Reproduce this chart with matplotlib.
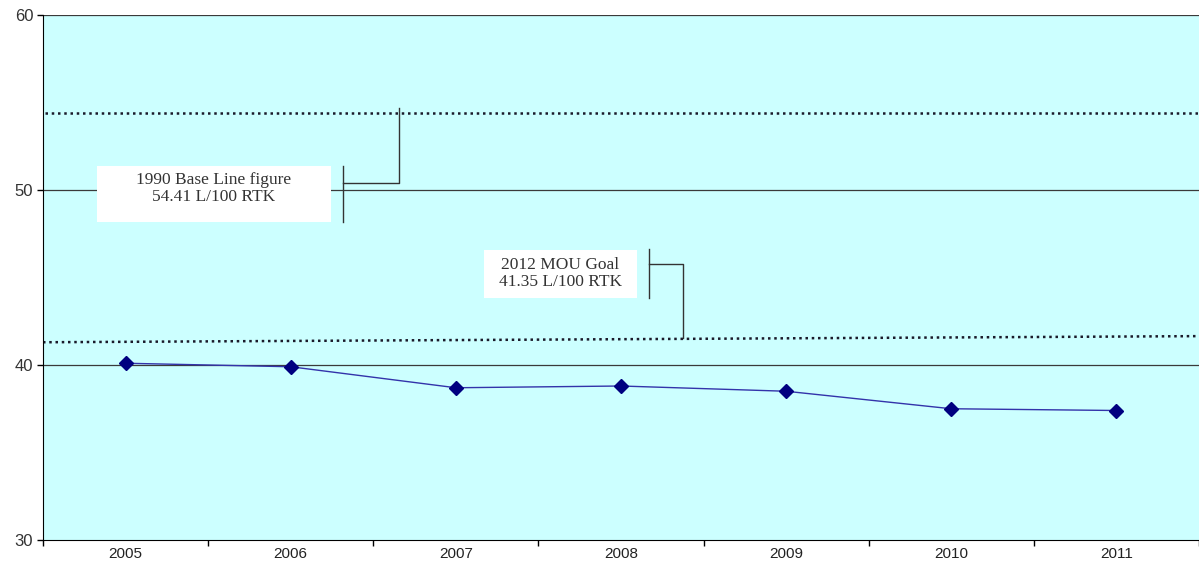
import matplotlib.pyplot as plt
import numpy as np

# chart data
years = ['2005', '2006', '2007', '2008', '2009', '2010', '2011']
rate = [40.1, 39.9, 38.7, 38.8, 38.5, 37.5, 37.4]
baseline = 54.41
goal_start, goal_end = 41.3, 41.65
base_label = '1990 Base Line figure\n54.41 L/100 RTK'
goal_label = '2012 MOU Goal\n41.35 L/100 RTK'

fig = plt.figure(figsize=(11.99, 5.65), dpi=100)
ax = fig.add_axes([43 / 1199, 25 / 565, 1156 / 1199, 525 / 565])
ax.set_facecolor('#CCFFFF')

x = np.arange(len(years))
ax.set_xlim(-0.5, len(years) - 0.5)
ax.set_ylim(30, 60)
ax.set_yticks([30, 40, 50, 60])

# gridlines
for g in [40, 50, 60]:
    ax.axhline(g, color='#3a3a3a', lw=0.9, zorder=1)

# reference dotted lines
ax.plot([-0.49, 6.5], [baseline, baseline], color='#1a1a2a', lw=1.8,
        linestyle=(0, (1, 1.5)), zorder=2)
ax.plot([-0.5, 6.5], [goal_start, goal_end], color='#1a1a2a', lw=1.8,
        linestyle=(0, (1, 1.5)), zorder=2)

# series
ax.plot(x, rate, color='#3333AA', lw=1.0, marker='D', markersize=7,
        markerfacecolor='#000080', markeredgecolor='#000080', zorder=4)

# callout 1
ax.fill_between([-0.173, 1.244], 48.17, 51.37, color='white', zorder=3, lw=0)
ax.text(0.535, 50.08, base_label, ha='center', va='center', fontsize=12.5,
        family='Liberation Serif', color='#333333', zorder=5, linespacing=1.08)
ax.plot([1.317, 1.317], [48.17, 51.37], color='#333333', lw=1.0, zorder=5)
ax.plot([1.317, 1.656, 1.656], [50.4, 50.4, 54.69], color='#333333', lw=1.0, zorder=5)

# callout 2
ax.fill_between([2.170, 3.097], 43.83, 46.57, color='white', zorder=3, lw=0)
ax.text(2.633, 45.22, goal_label, ha='center', va='center', fontsize=12.5,
        family='Liberation Serif', color='#333333', zorder=5, linespacing=1.08)
ax.plot([3.170, 3.170], [43.83, 46.63], color='#333333', lw=1.0, zorder=5)
ax.plot([3.170, 3.375, 3.375], [45.77, 45.77, 41.54], color='#333333', lw=1.0, zorder=5)

# axes styling
ax.spines['top'].set_visible(False)
ax.spines['right'].set_visible(False)
ax.spines['left'].set_color('black')
ax.spines['bottom'].set_color('black')
ax.set_xticks(np.arange(-0.5, len(years) - 0.4, 1.0))
ax.set_xticklabels([])
ax.set_xticks(x, minor=True)
ax.set_xticklabels(years, minor=True, fontsize=11, family='Liberation Sans', color='#222222')
ax.tick_params(axis='x', which='major', direction='out', length=4, width=1)
ax.tick_params(axis='x', which='minor', length=0, pad=5)
ax.tick_params(axis='y', direction='out', length=4, width=1, labelsize=12,
               labelcolor='#333333', pad=3)
for lab in ax.get_yticklabels():
    lab.set_family('Liberation Sans')

fig.savefig('out.png', dpi=100)
